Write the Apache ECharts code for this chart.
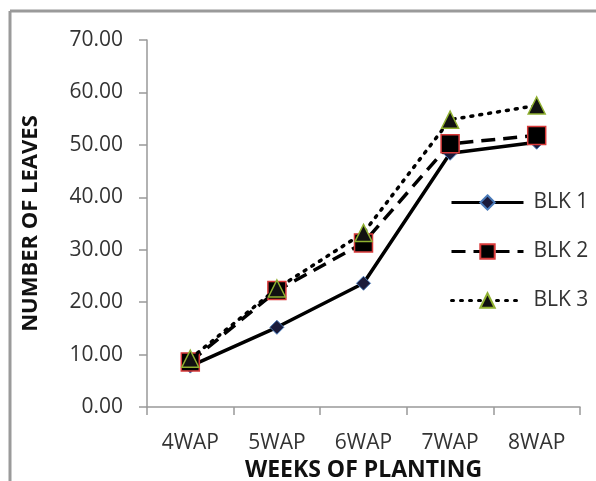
<!DOCTYPE html>
<html>
<head>
<meta charset="utf-8">
<script src="https://cdn.jsdelivr.net/npm/echarts@6/dist/echarts.min.js"></script>
<style>html,body{margin:0;padding:0;background:#fff;}#c{width:596px;height:481px;}</style>
</head>
<body>
<div id="c"></div>
<script>
var categories = ['4WAP', '5WAP', '6WAP', '7WAP', '8WAP'];
var blk1 = [7.8, 15.2, 23.6, 48.4, 50.5];
var blk2 = [8.6, 22.2, 31.3, 50.2, 51.8];
var blk3 = [9.2, 22.6, 33.2, 54.8, 57.5];
var seriesNames = ['BLK 1', 'BLK 2', 'BLK 3'];
var yTicks = {min: 0, max: 70, interval: 10};

var chart = echarts.init(document.getElementById('c'));
var font = '"Open Sans", "DejaVu Sans", sans-serif';
chart.setOption({
  animation: false,
  backgroundColor: '#fff',
  grid: {left: 147, right: 16, top: 40, bottom: 74, containLabel: false, outerBoundsMode: 'none'},
  graphic: [
    {type: 'line', shape: {x1: 10, y1: 11, x2: 596, y2: 11}, style: {stroke: '#9a9a9a', lineWidth: 3}},
    {type: 'line', shape: {x1: 10, y1: 11, x2: 10, y2: 481}, style: {stroke: '#9a9a9a', lineWidth: 3}}
  ],
  legend: {
    orient: 'vertical', left: 445, top: 187, itemGap: 28,
    itemWidth: 72, itemHeight: 18,
    lineStyle: {width: 3},
    textStyle: {fontFamily: font, fontSize: 21, color: '#333', padding: [0, 0, 0, 5]},
    data: seriesNames
  },
  xAxis: {
    type: 'category', data: categories, boundaryGap: true,
    name: 'WEEKS OF PLANTING', nameLocation: 'middle', nameGap: 52,
    nameTextStyle: {fontFamily: font, fontSize: 23, fontWeight: 'bold', color: '#111'},
    axisLine: {lineStyle: {color: '#999', width: 1.5}},
    axisTick: {show: true, length: 8, alignWithLabel: false, lineStyle: {color: '#999', width: 1.5}},
    axisLabel: {fontFamily: font, fontSize: 21, color: '#333', margin: 26},
    splitLine: {show: false}
  },
  yAxis: {
    type: 'value', min: yTicks.min, max: yTicks.max, interval: yTicks.interval,
    name: 'NUMBER OF LEAVES', nameLocation: 'middle', nameGap: 105, nameRotate: 90,
    nameTextStyle: {fontFamily: font, fontSize: 22, fontWeight: 'bold', color: '#111'},
    axisLine: {show: true, lineStyle: {color: '#999', width: 1.5}},
    axisTick: {show: true, length: 8, lineStyle: {color: '#999', width: 1.5}},
    axisLabel: {fontFamily: font, fontSize: 21, color: '#333', margin: 24,
      formatter: function (v) { return v.toFixed(2); }},
    splitLine: {show: false}
  },
  series: [
    {name: seriesNames[0], type: 'line', data: blk1, symbol: 'diamond', symbolSize: 14,
      lineStyle: {color: '#000', width: 3.5, type: 'solid'},
      itemStyle: {color: '#1a1a3a', borderColor: '#4a7ab8', borderWidth: 1}, z: 3},
    {name: seriesNames[1], type: 'line', data: blk2, symbol: 'rect', symbolSize: 18,
      lineStyle: {color: '#000', width: 3.5, type: [14, 8]},
      itemStyle: {color: '#000', borderColor: '#d83a3a', borderWidth: 1.5}, z: 4},
    {name: seriesNames[2], type: 'line', data: blk3, symbol: 'triangle', symbolSize: 17,
      lineStyle: {color: '#000', width: 3.5, type: [2, 7], cap: 'round'},
      itemStyle: {color: '#111', borderColor: '#8fb030', borderWidth: 1.5}, z: 5}
  ]
});
</script>
</body>
</html>
